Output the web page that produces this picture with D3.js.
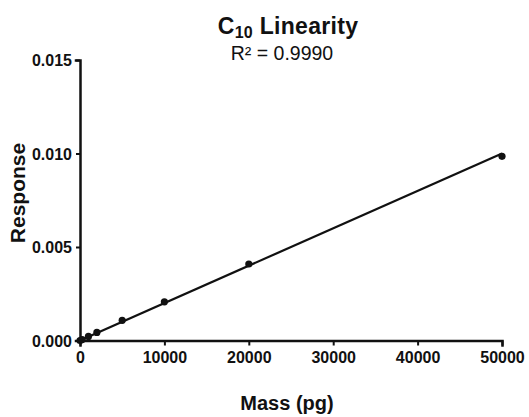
<!DOCTYPE html>
<html>
<head>
<meta charset="utf-8">
<script src="https://cdn.jsdelivr.net/npm/d3@7"></script>
<style>
  body { margin: 0; background: #fff; }
  svg { display: block; font-family: "Liberation Sans", Arial, sans-serif; }
  .tick text { font-family: "Liberation Sans", Arial, sans-serif; font-weight: bold; font-size: 16px; fill: #111; }
</style>
</head>
<body>
<div id="chart"></div>
<script>
// data
const MASS = [0, 250, 1000, 2000, 5000, 10000, 20000, 50000]
const RESPONSE = [0.00000, 0.00005, 0.00022, 0.00043, 0.00108, 0.00207, 0.00409, 0.00985]
const FIT_X = [0, 50000]
const FIT_Y = [0, 0.0100]
const X_TICKS = [0, 10000, 20000, 30000, 40000, 50000]
const Y_TICKS = [0, 0.005, 0.010, 0.015]

const WIDTH = 529
const HEIGHT = 417
const MARGIN = { top: 60, right: 27, bottom: 76.5, left: 80 }

let svg = d3.select('#chart')
  .append('svg')
    .attr('width', WIDTH)
    .attr('height', HEIGHT)

let x = d3.scaleLinear()
  .domain([0, 50000])
  .range([MARGIN.left, WIDTH - MARGIN.right])

let y = d3.scaleLinear()
  .domain([0, 0.015])
  .range([HEIGHT - MARGIN.bottom, MARGIN.top])

// axes
let xAxis = svg.append('g')
  .attr('transform', 'translate(0,' + (HEIGHT - MARGIN.bottom) + ')')
  .call(d3.axisBottom(x).tickValues(X_TICKS).tickFormat(d3.format('d')).tickSizeOuter(0).tickSize(5))

let yAxis = svg.append('g')
  .attr('transform', 'translate(' + MARGIN.left + ',0)')
  .call(d3.axisLeft(y).tickValues(Y_TICKS).tickFormat(d3.format('.3f')).tickSizeOuter(0).tickSize(4))

svg.selectAll('.domain')
  .attr('stroke', '#111')
  .attr('stroke-width', 2.5)
  .attr('stroke-linecap', 'square')

svg.selectAll('.tick line')
  .attr('stroke', '#111')
  .attr('stroke-width', 2)

xAxis.selectAll('.tick text').attr('y', 22).attr('dy', 0)
yAxis.selectAll('.tick text').attr('x', -8).attr('dy', '0.36em')

// fit line and points
let points = MASS.map((m, i) => ({ m: m, r: RESPONSE[i] }))

svg.append('path')
  .datum(FIT_X.map((m, i) => [m, FIT_Y[i]]))
  .attr('fill', 'none')
  .attr('stroke', '#111')
  .attr('stroke-width', 2.2)
  .attr('d', d3.line().x((d) => x(d[0])).y((d) => y(d[1])))

svg.append('g')
  .selectAll('circle')
    .data(points)
  .enter().append('circle')
    .attr('cx', (d) => x(d.m))
    .attr('cy', (d) => y(d.r))
    .attr('r', 3.6)
    .attr('fill', '#111')

// titles
let title = svg.append('text')
  .attr('x', 288)
  .attr('y', 34)
  .attr('text-anchor', 'middle')
  .attr('font-weight', 'bold')
  .attr('font-size', 23)
  .attr('letter-spacing', 0.3)
  .attr('fill', '#111')
title.append('tspan').text('C')
title.append('tspan').attr('font-size', 16).attr('dy', 4).text('10')
title.append('tspan').attr('dy', -4).text(' Linearity')

svg.append('text')
  .attr('x', 282)
  .attr('y', 60)
  .attr('text-anchor', 'middle')
  .attr('font-size', 19.5)
  .attr('fill', '#111')
  .text('R² = 0.9990')

svg.append('text')
  .attr('transform', 'translate(25,' + 193 + ') rotate(-90)')
  .attr('text-anchor', 'middle')
  .attr('font-weight', 'bold')
  .attr('font-size', 21)
  .attr('fill', '#111')
  .text('Response')

svg.append('text')
  .attr('x', 287)
  .attr('y', 410)
  .attr('text-anchor', 'middle')
  .attr('font-weight', 'bold')
  .attr('font-size', 20)
  .attr('fill', '#111')
  .text('Mass (pg)')
</script>
</body>
</html>
